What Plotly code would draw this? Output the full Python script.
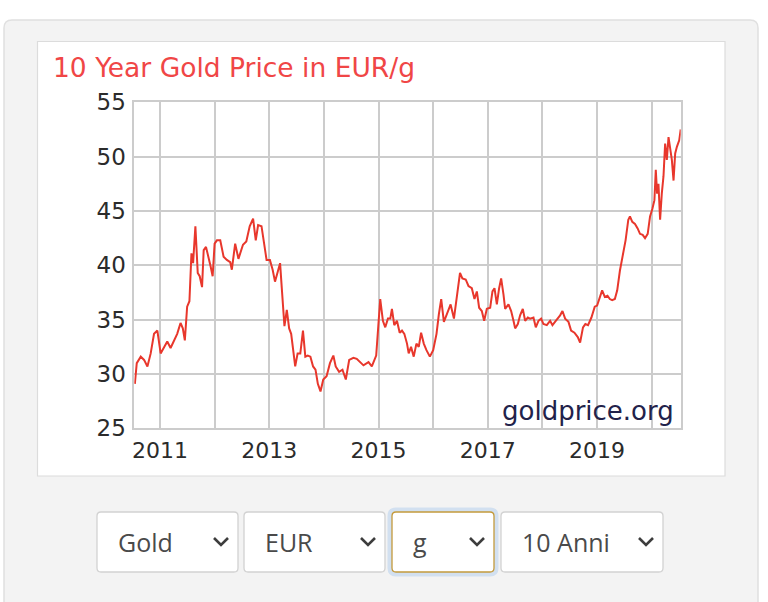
import plotly.graph_objects as go

# ---------------- data ----------------
years = [
    2010.540, 2010.575, 2010.648, 2010.709, 2010.770, 2010.830, 2010.891, 2010.952,
    2011.012, 2011.073, 2011.133, 2011.194, 2011.255, 2011.315, 2011.376, 2011.418,
    2011.455, 2011.497, 2011.539, 2011.576, 2011.606, 2011.648, 2011.691, 2011.727,
    2011.770, 2011.800, 2011.842, 2011.891, 2011.927, 2011.964, 2012.000, 2012.042,
    2012.103, 2012.164, 2012.224, 2012.285, 2012.315, 2012.376, 2012.436,
    2012.519, 2012.580, 2012.642, 2012.704, 2012.753, 2012.796, 2012.858, 2012.901,
    2012.951, 2013.012, 2013.062, 2013.105, 2013.148, 2013.198, 2013.228, 2013.278,
    2013.321, 2013.364, 2013.401, 2013.444, 2013.475, 2013.519, 2013.568, 2013.617,
    2013.660, 2013.704, 2013.753, 2013.802, 2013.846, 2013.889, 2013.938, 2013.988,
    2014.049, 2014.111, 2014.173, 2014.216, 2014.278, 2014.340, 2014.401, 2014.463,
    2014.540, 2014.601, 2014.724, 2014.816, 2014.877, 2014.957, 2015.000, 2015.031,
    2015.080, 2015.123, 2015.172, 2015.215, 2015.245, 2015.288, 2015.337, 2015.387,
    2015.429, 2015.472, 2015.521, 2015.552, 2015.595, 2015.644, 2015.693, 2015.736,
    2015.779, 2015.828, 2015.877, 2015.939, 2016.000, 2016.061, 2016.104, 2016.147,
    2016.196, 2016.258, 2016.319, 2016.380, 2016.429, 2016.491, 2016.534, 2016.595,
    2016.646, 2016.707, 2016.756, 2016.799, 2016.841, 2016.890, 2016.933, 2016.982,
    2017.043, 2017.085, 2017.122, 2017.165, 2017.207, 2017.244, 2017.287, 2017.317,
    2017.378, 2017.427, 2017.470, 2017.500, 2017.549, 2017.591, 2017.640, 2017.683,
    2017.732, 2017.774, 2017.835, 2017.878, 2017.927, 2017.976, 2018.018, 2018.079,
    2018.140, 2018.183, 2018.244, 2018.323, 2018.366, 2018.415, 2018.476, 2018.524,
    2018.585, 2018.646, 2018.689, 2018.742, 2018.785, 2018.834, 2018.896, 2018.957,
    2019.000, 2019.049, 2019.092, 2019.141, 2019.190, 2019.233, 2019.276, 2019.325,
    2019.368, 2019.417, 2019.479, 2019.521, 2019.571, 2019.601, 2019.644, 2019.693,
    2019.742, 2019.785, 2019.834, 2019.877, 2019.926, 2019.969, 2020.012, 2020.049,
    2020.074, 2020.098, 2020.123, 2020.153, 2020.184, 2020.215, 2020.245, 2020.276,
    2020.307, 2020.337, 2020.368, 2020.399, 2020.429, 2020.460, 2020.503, 2020.530,
]
prices = [
    29.1, 31.0, 31.6, 31.3, 30.7, 31.9, 33.7, 34.0,
    31.9, 32.5, 33.0, 32.4, 33.1, 33.7, 34.7, 34.2,
    33.1, 36.2, 36.7, 41.1, 40.2, 43.6, 39.3, 39.0,
    38.0, 41.4, 41.7, 40.8, 39.9, 39.0, 42.0, 42.3,
    42.3, 40.8, 40.5, 40.3, 39.6, 42.0, 40.6,
    41.9, 42.2, 43.6, 44.3, 42.3, 43.7, 43.6, 42.0,
    40.5, 40.5, 39.6, 38.5, 39.3, 40.2, 38.0, 34.4,
    35.9, 34.2, 33.7, 31.6, 30.7, 31.9, 31.9, 34.0,
    31.6, 31.7, 31.6, 30.7, 30.4, 29.1, 28.4, 29.5,
    29.8, 31.0, 31.7, 30.7, 30.2, 30.4, 29.5, 31.3,
    31.5, 31.4, 30.8, 31.1, 30.7, 31.7, 34.3, 36.9,
    34.9, 34.3, 35.1, 35.1, 36.0, 34.5, 34.9, 33.8,
    34.0, 33.7, 32.8, 31.9, 32.5, 31.6, 32.8, 32.5,
    33.8, 32.8, 32.2, 31.6, 32.2, 33.7, 35.5, 36.9,
    34.8, 35.7, 36.4, 35.1, 36.9, 39.3, 38.8, 38.7,
    38.1, 37.9, 36.9, 37.6, 36.1, 35.8, 34.9, 36.0,
    36.1, 37.6, 37.9, 36.4, 37.9, 38.8, 37.3, 36.0,
    36.4, 35.8, 34.9, 34.2, 34.6, 35.4, 36.0, 34.9,
    35.2, 35.1, 35.2, 34.3, 34.9, 35.1, 34.6, 34.5,
    34.9, 34.5, 34.9, 35.4, 35.8, 35.1, 34.8, 34.0,
    33.8, 33.4, 32.9, 34.3, 34.6, 34.5, 35.2, 36.2,
    36.3, 37.1, 37.7, 37.1, 37.2, 36.9, 36.8, 36.9,
    37.7, 39.5, 41.1, 42.3, 44.2, 44.5, 44.0, 43.8,
    43.4, 42.9, 42.8, 42.5, 42.9, 44.5, 45.2, 46.0,
    48.8, 46.6, 47.5, 44.2, 46.6, 48.2, 51.2, 49.7,
    51.8, 50.6, 49.7, 47.8, 50.3, 50.9, 51.5, 52.5,
]

x_tick_years = [2011, 2012, 2013, 2014, 2015, 2016, 2017, 2018, 2019, 2020]
x_tick_labels = ["2011", "", "2013", "", "2015", "", "2017", "", "2019", ""]
y_tick_values = [25, 30, 35, 40, 45, 50, 55]
title_text = "10 Year Gold Price in EUR/g"
watermark_text = "goldprice.org"
dropdown_labels = ["Gold", "EUR", "g", "10 Anni"]

# ---------------- layout helpers (pixel -> paper) ----------------
W, H = 768, 602


def px(x):
    return x / W


def py(y):
    return 1 - y / H


def fmt(x, y):
    return f"{px(x):.5f},{py(y):.5f}"


def rrect(x0, y0, x1, y1, r):
    return (f"M {fmt(x0 + r, y0)} L {fmt(x1 - r, y0)} Q {fmt(x1, y0)} {fmt(x1, y0 + r)} "
            f"L {fmt(x1, y1 - r)} Q {fmt(x1, y1)} {fmt(x1 - r, y1)} "
            f"L {fmt(x0 + r, y1)} Q {fmt(x0, y1)} {fmt(x0, y1 - r)} "
            f"L {fmt(x0, y0 + r)} Q {fmt(x0, y0)} {fmt(x0 + r, y0)} Z")


fig = go.Figure()
fig.add_trace(go.Scatter(
    x=years, y=prices, mode="lines",
    line=dict(color="#e8372c", width=2),
    hoverinfo="skip", showlegend=False,
))

shapes = []
# outer light-gray panel
shapes.append(dict(type="path", xref="paper", yref="paper", layer="below",
                   path=rrect(4, 20, 758, 640, 8),
                   fillcolor="#f3f3f3", line=dict(color="#e0e0e0", width=1.5)))
# white chart card
shapes.append(dict(type="rect", xref="paper", yref="paper", layer="below",
                   x0=px(37.5), x1=px(725), y0=py(476), y1=py(41.5),
                   fillcolor="white", line=dict(color="#dcdcdc", width=1.2)))

# dropdown boxes
boxes = [(97, 238), (244, 385), (392, 494), (501, 663)]
box_top, box_bot = 512, 572
for i, (bx0, bx1) in enumerate(boxes):
    if i == 2:
        shapes.append(dict(type="path", xref="paper", yref="paper",
                           path=rrect(bx0 - 2, box_top - 2, bx1 + 2, box_bot + 2, 6),
                           fillcolor="rgba(0,0,0,0)",
                           line=dict(color="rgba(150,190,235,0.35)", width=5)))
        border = "#c49a3c"
    else:
        border = "#d2d2d2"
    shapes.append(dict(type="path", xref="paper", yref="paper",
                       path=rrect(bx0, box_top, bx1, box_bot, 4),
                       fillcolor="white", line=dict(color=border, width=1.3)))
    cx, cy = bx1 - 17, (box_top + box_bot) / 2
    shapes.append(dict(type="path", xref="paper", yref="paper",
                       path=f"M {fmt(cx - 7, cy - 4)} L {fmt(cx, cy + 3)} L {fmt(cx + 7, cy - 4)}",
                       line=dict(color="#3d3d3d", width=2.6)))

annotations = []
annotations.append(dict(text=title_text, xref="paper", yref="paper",
                        x=px(51), y=py(67), xanchor="left", yanchor="middle",
                        showarrow=False,
                        font=dict(family="DejaVu Sans", size=26.5, color="#f04646")))
annotations.append(dict(text=watermark_text, xref="paper", yref="paper",
                        x=px(676), y=py(411), xanchor="right", yanchor="middle",
                        showarrow=False,
                        font=dict(family="DejaVu Sans", size=26, color="#22224a")))
for (bx0, bx1), lab in zip(boxes, dropdown_labels):
    annotations.append(dict(text=lab, xref="paper", yref="paper",
                            x=px(bx0 + 19), y=py(541.5), xanchor="left", yanchor="middle",
                            showarrow=False,
                            font=dict(family="Open Sans", size=25, color="#4a4a4a")))

fig.update_layout(
    width=W, height=H, autosize=False,
    margin=dict(l=0, r=0, t=0, b=0, pad=0, autoexpand=False),
    paper_bgcolor="white", plot_bgcolor="white",
    shapes=shapes, annotations=annotations,
    xaxis=dict(domain=[px(134.3), px(680.7)], range=[2010.53, 2020.53],
               automargin=False,
               tickmode="array", tickvals=x_tick_years, ticktext=x_tick_labels,
               showgrid=True, gridcolor="#cccccc", gridwidth=1.6,
               showline=True, linecolor="#cccccc", linewidth=1.6, mirror=True,
               zeroline=False, ticks="", ticklabelstandoff=1,
               tickfont=dict(family="DejaVu Sans", size=22, color="#2b2b2b")),
    yaxis=dict(domain=[py(428.4), py(102.3)], range=[25, 55],
               automargin=False,
               tickmode="array", tickvals=y_tick_values,
               showgrid=True, gridcolor="#cccccc", gridwidth=1.6,
               showline=True, linecolor="#cccccc", linewidth=1.6, mirror=True,
               zeroline=False, ticks="", ticklabelstandoff=2,
               tickfont=dict(family="DejaVu Sans", size=23, color="#2b2b2b")),
)

fig.write_html("out.html")
